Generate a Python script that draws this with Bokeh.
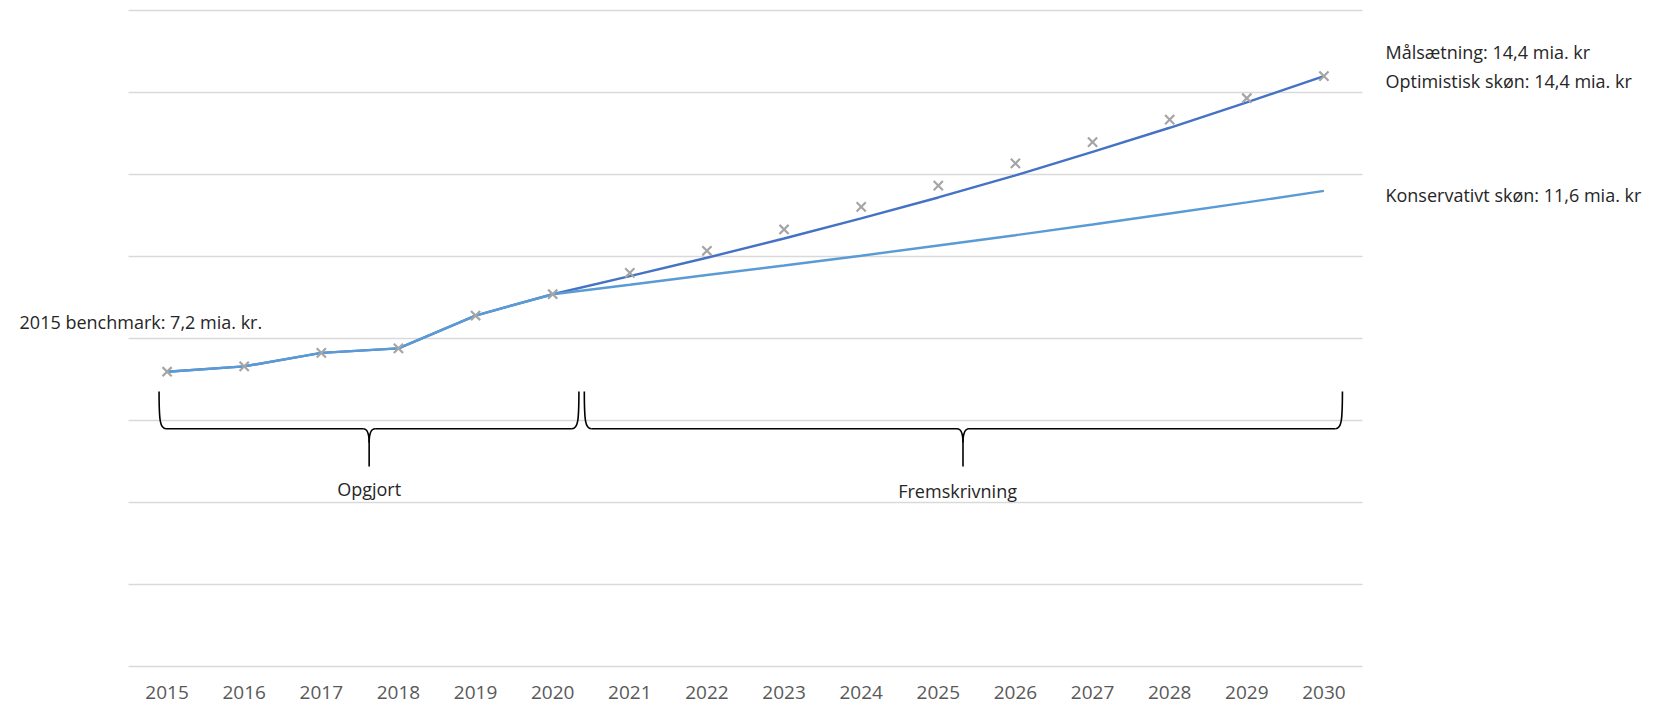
from bokeh.plotting import figure
from bokeh.models import Label, FixedTicker, Range1d
from bokeh.embed import file_html
from bokeh.resources import INLINE

# ---- data (mia. kr.) ----
years = list(range(2015, 2031))
target_path = [7.19, 7.32, 7.65, 7.76, 8.56, 9.08, 9.60, 10.14, 10.66, 11.21,
               11.73, 12.27, 12.79, 13.34, 13.86, 14.40]
hist_years = list(range(2015, 2021))
historical = [7.19, 7.32, 7.65, 7.76, 8.56, 9.08]
proj_years = list(range(2020, 2031))
optimistic = [9.08, 9.52, 9.97, 10.44, 10.93, 11.44, 11.98, 12.55, 13.14, 13.76, 14.40]
conservative = [9.08, 9.31, 9.55, 9.78, 10.02, 10.27, 10.52, 10.78, 11.05, 11.32, 11.60]
y_ticks = [0, 2, 4, 6, 8, 10, 12, 14, 16]

label_benchmark = "2015 benchmark: 7,2 mia. kr."
label_goal = "Målsætning: 14,4 mia. kr"
label_opt = "Optimistisk skøn: 14,4 mia. kr"
label_cons = "Konservativt skøn: 11,6 mia. kr"
brace_labels = ["Opgjort", "Fremskrivning"]

FONT = "Open Sans"
DARK = "#4472C4"
LIGHT = "#5B9BD5"
GREY = "#A5A5A5"
GRID = "#D9D9D9"
TXT = "#262626"

p = figure(width=1666, height=710,
           x_range=Range1d(2012.840, 2034.442), y_range=Range1d(-0.146, 16.244),
           output_backend="svg", toolbar_location=None, y_axis_location=None,
           min_border_left=0, min_border_right=0, min_border_top=0, min_border_bottom=38)
p.outline_line_color = None
p.background_fill_color = "white"
p.border_fill_color = "white"
p.xgrid.visible = False
p.ygrid.visible = False

ax = p.xaxis[0]
ax.ticker = FixedTicker(ticks=years)
ax.axis_line_color = None
ax.major_tick_line_color = None
ax.major_tick_out = 0
ax.major_tick_in = 0
ax.minor_tick_line_color = None
ax.minor_tick_out = 0
ax.minor_tick_in = 0
ax.major_label_text_font = FONT
ax.major_label_text_font_size = "19px"
ax.major_label_text_color = "#595959"
ax.major_label_standoff = 13

# horizontal gridlines spanning the category area
p.segment(x0=[2014.5] * len(y_ticks), y0=y_ticks, x1=[2030.5] * len(y_ticks), y1=y_ticks,
          line_color=GRID, line_width=1.4)

# lines
p.line(proj_years, optimistic, line_color=DARK, line_width=2.4)
p.line(hist_years, historical, line_color=DARK, line_width=2.4)
p.line(proj_years, conservative, line_color=LIGHT, line_width=2.4)
p.line(hist_years, historical, line_color=LIGHT, line_width=2.4)
p.scatter(years, target_path, marker="x", size=13, line_color=GREY, line_width=2.2)

# braces (data-space decoration)
dx = 1 / 77.125   # one pixel in x
dy = 1 / 41.0     # one pixel in y
y_top, y_bar, y_tip = 6.71, 5.80, 4.88


def brace(x0, x1, xm):
    kw = dict(line_color="black", line_width=1.6)
    p.bezier(x0=[x0], y0=[y_top], x1=[x0 + 7 * dx], y1=[y_bar],
             cx0=[x0], cy0=[y_bar + 8 * dy], cx1=[x0 + 1 * dx], cy1=[y_bar], **kw)
    p.bezier(x0=[x1], y0=[y_top], x1=[x1 - 7 * dx], y1=[y_bar],
             cx0=[x1], cy0=[y_bar + 8 * dy], cx1=[x1 - 1 * dx], cy1=[y_bar], **kw)
    p.segment(x0=[x0 + 7 * dx, xm + 6 * dx], y0=[y_bar, y_bar],
              x1=[xm - 6 * dx, x1 - 7 * dx], y1=[y_bar, y_bar], **kw)
    for s in (-1, 1):
        p.bezier(x0=[xm + s * 6 * dx], y0=[y_bar], x1=[xm], y1=[y_bar - 14 * dy],
                 cx0=[xm + s * 1 * dx], cy0=[y_bar], cx1=[xm], cy1=[y_bar - 6 * dy], **kw)
    p.segment(x0=[xm], y0=[y_bar - 14 * dy], x1=[xm], y1=[y_tip], **kw)


brace(2014.896, 2020.34, 2017.62)
brace(2020.41, 2030.24, 2025.32)

for txt, xx, yy in zip(brace_labels, [2017.62, 2025.25], [4.32, 4.27]):
    p.add_layout(Label(x=xx, y=yy, text=txt, text_align="center", text_baseline="middle",
                       text_font=FONT, text_font_size="18px", text_color=TXT))

p.add_layout(Label(x=2013.087, y=8.41, text=label_benchmark, text_align="left",
                   text_baseline="middle", text_font=FONT, text_font_size="18px",
                   text_color=TXT))
for txt, yy in zip([label_goal, label_opt, label_cons], [15.0, 14.27, 11.51]):
    p.add_layout(Label(x=2030.798, y=yy, text=txt, text_align="left",
                       text_baseline="middle", text_font=FONT, text_font_size="18px",
                       text_color=TXT))

open("out.html", "w").write(file_html(p, INLINE))
